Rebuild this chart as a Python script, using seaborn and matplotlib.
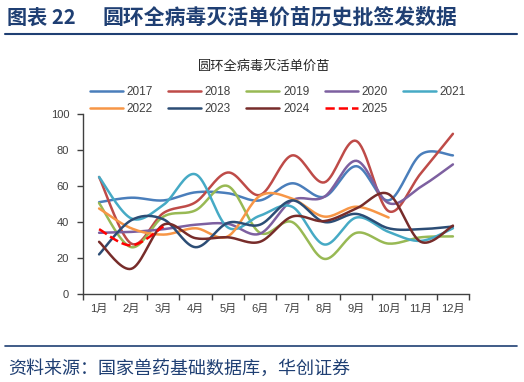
import numpy as np
import seaborn as sns
import matplotlib.pyplot as plt
from matplotlib.lines import Line2D

# monthly batch-release values
months = ["1月", "2月", "3月", "4月", "5月", "6月", "7月", "8月", "9月", "10月", "11月", "12月"]
y2017 = [51, 53.5, 52, 56.5, 56, 52, 61.5, 54, 71, 52, 77.5, 77]
y2018 = [65, 28, 45, 51, 67.5, 55, 77, 62, 85, 46, 67, 89]
y2019 = [50.5, 26, 43, 46.5, 60, 34, 40, 19.5, 34, 28, 31.5, 32]
y2020 = [34, 34.5, 36, 38.5, 39, 33.5, 52, 54, 74, 50.5, 59.5, 72]
y2021 = [65, 42, 49.5, 66.5, 37, 43.5, 48.5, 27.5, 42.5, 34.5, 29.5, 36.5]
y2022 = [47.5, 36.5, 33, 36.5, 32, 54.5, 53, 43, 48.5, 42.5]
y2023 = [22, 41, 41.5, 26, 39.5, 38.5, 52, 40, 44.5, 36.5, 36, 37.5]
y2024 = [29, 14, 38.5, 31, 31.5, 29, 43, 40.5, 47.5, 55.5, 29, 38]
y2025 = [36, 27, 37.5]

series = {
    "2017": y2017, "2018": y2018, "2019": y2019, "2020": y2020, "2021": y2021,
    "2022": y2022, "2023": y2023, "2024": y2024, "2025": y2025,
}
colors = {
    "2017": "#4A7EBB", "2018": "#BE4B48", "2019": "#98B954", "2020": "#7D60A0",
    "2021": "#46AAC5", "2022": "#F79646", "2023": "#2C4D75", "2024": "#772C2A",
    "2025": "#FF0000",
}


def smooth(x, y, n=20):
    # catmull-rom style curve, like excel's smoothed lines
    x = np.asarray(x, float)
    y = np.asarray(y, float)
    px = np.concatenate([[x[0]], x, [x[-1]]])
    py = np.concatenate([[y[0]], y, [y[-1]]])
    xs, ys = [], []
    t = np.linspace(0, 1, n)
    for i in range(1, len(px) - 2):
        p0, p1, p2, p3 = [np.array([px[j], py[j]]) for j in range(i - 1, i + 3)]
        c1 = p1 + (p2 - p0) / 6
        c2 = p2 - (p3 - p1) / 6
        pts = ((1 - t) ** 3)[:, None] * p1 + (3 * (1 - t) ** 2 * t)[:, None] * c1 \
            + (3 * (1 - t) * t ** 2)[:, None] * c2 + (t ** 3)[:, None] * p2
        xs.extend(pts[:, 0])
        ys.extend(pts[:, 1])
    return np.array(xs), np.array(ys)


sns.set_style("white")
plt.rcParams["font.family"] = ["Liberation Sans", "Noto Sans CJK SC", "DejaVu Sans"]

fig = plt.figure(figsize=(5.24, 3.82), dpi=100)
ax = fig.add_axes([83 / 524, (382 - 294) / 382, (469 - 83) / 524, (294 - 114) / 382])

handles = []
for name, vals in series.items():
    xs, ys = smooth(np.arange(1, len(vals) + 1), vals)
    ls = "--" if name == "2025" else "-"
    sns.lineplot(x=xs, y=ys, ax=ax, color=colors[name], lw=1.8, linestyle=ls,
                 sort=False, estimator=None)
    handles.append(Line2D([], [], color=colors[name], lw=1.8, linestyle=ls, label=name))

ax.set_xlim(0.5, 12.5)
ax.set_ylim(0, 100)
ax.set_yticks(range(0, 101, 20))
ax.set_xticks(np.arange(0.5, 12.6, 1))
ax.set_xticklabels([])
ax.set_xticks(np.arange(1, 13), minor=True)
ax.set_xticklabels(months, minor=True)
ax.tick_params(axis="x", which="major", length=4, width=1, color="#404040", direction="out", bottom=True)
ax.tick_params(axis="x", which="minor", length=0, labelsize=8, labelcolor="#404040", pad=7)
ax.tick_params(axis="y", length=4, width=1, color="#404040", direction="out", left=True,
               labelsize=8, labelcolor="#404040", pad=6)
for s in ["top", "right"]:
    ax.spines[s].set_visible(False)
for s in ["left", "bottom"]:
    ax.spines[s].set_color("#404040")
    ax.spines[s].set_linewidth(1)

order = [0, 5, 1, 6, 2, 7, 3, 8, 4]
fig.legend([handles[i] for i in order], [handles[i].get_label() for i in order],
           ncol=5, loc="upper left", bbox_to_anchor=(84 / 524, 1 - 80 / 382),
           frameon=False, fontsize=8.5, handlelength=2.8, handletextpad=0.3,
           columnspacing=1.3, labelspacing=0.45, borderpad=0, labelcolor="#404040")

fig.text(264 / 524, 1 - 67 / 382, "圆环全病毒灭活单价苗", ha="center", va="center",
         fontsize=9.5, color="#262626")

title_blue = "#1F3F73"
fig.text(7 / 524, 1 - 17 / 382, "图表 22", ha="left", va="center",
         fontsize=14.5, fontweight="bold", color=title_blue, family=["Noto Sans CJK SC"])
fig.text(103 / 524, 1 - 17 / 382, "圆环全病毒灭活单价苗历史批签发数据", ha="left", va="center",
         fontsize=15, fontweight="bold", color=title_blue, family=["Noto Sans CJK SC"])
fig.add_artist(Line2D([5 / 524, 517 / 524], [1 - 33.5 / 382] * 2, color=title_blue, lw=1.5))
fig.add_artist(Line2D([5 / 524, 517 / 524], [1 - 346 / 382] * 2, color=title_blue, lw=1.2))
fig.text(8 / 524, 1 - 369 / 382, "资料来源：国家兽药基础数据库，华创证券", ha="left", va="center",
         fontsize=13, color=title_blue, style="italic", family=["Noto Sans CJK SC"])

fig.savefig("out.png", dpi=100)
